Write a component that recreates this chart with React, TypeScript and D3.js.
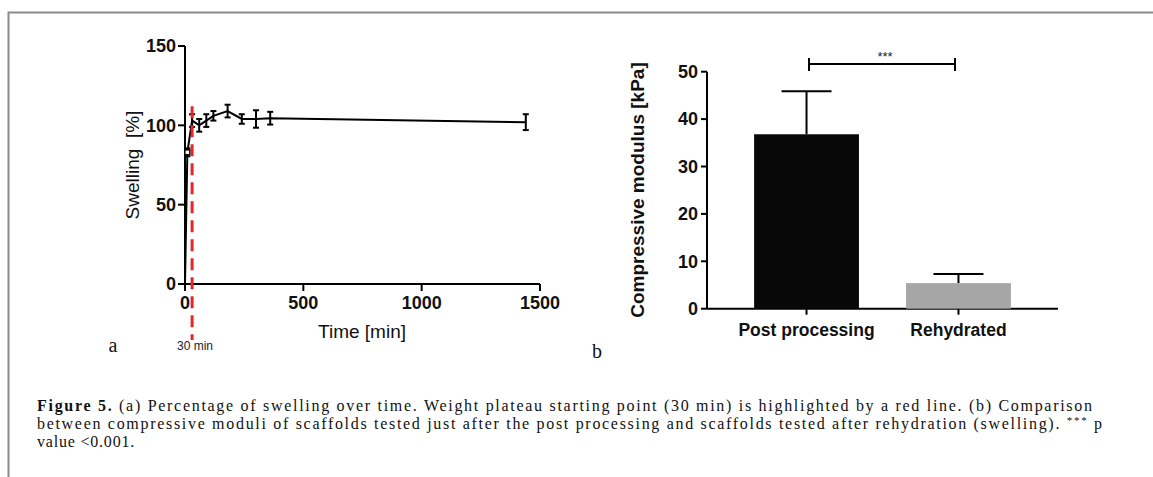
import * as d3 from 'd3'

// panel a: swelling over time
const times = [0, 10, 30, 60, 90, 120, 180, 240, 300, 360, 1440]
const swelling = [0, 83, 103, 100, 103, 106, 109, 104, 104, 104.5, 102]
const swellErr = [0, 2.5, 4, 4, 4, 3, 4, 3, 5.5, 4, 5]
const xTicksA = [0, 500, 1000, 1500]
const yTicksA = [0, 50, 100, 150]
const plateau = 30

// panel b: compressive modulus
const groups = ['Post processing', 'Rehydrated']
const modulus = [36.8, 5.4]
const modulusErr = [9.1, 1.9]
const yTicksB = [0, 10, 20, 30, 40, 50]
const barColors = ['#080808', '#a6a6a6']

const sans = 'Liberation Sans, Arial, sans-serif'
const serif = 'Liberation Serif, Times New Roman, serif'

export default function App() {
  const W = 1153
  const H = 477

  const xA = d3.scaleLinear().domain([0, 1500]).range([185, 540])
  const yA = d3.scaleLinear().domain([0, 150]).range([284, 46])
  const line = d3
    .line<number>()
    .x((d, i) => xA(times[i]))
    .y(d => yA(d))

  const xB = d3.scaleBand().domain(groups).range([707, 1058]).paddingInner(0.31).paddingOuter(0.31)
  const yB = d3.scaleLinear().domain([0, 50]).range([308.7, 71.7])

  const cap = 3
  const tk = 7

  return (
    <div style={{ position: 'absolute', left: 0, top: 0 }}>
      <svg width={W} height={H} style={{ display: 'block', background: '#fff' }}>
        {/* frame */}
        <path d={`M8.5,${H} V12.5 H${W}`} fill="none" stroke="#8a8a8a" strokeWidth={2} />

        {/* ---- panel a ---- */}
        <g fontFamily={sans} fontWeight="bold" fontSize={18} fill="#111">
          {/* axes */}
          <line x1={xA(0)} x2={xA(0)} y1={yA(150)} y2={yA(0)} stroke="#000" strokeWidth={2} />
          <line x1={xA(0) - tk} x2={xA(1500)} y1={yA(0)} y2={yA(0)} stroke="#000" strokeWidth={2} />
          {yTicksA.map(t => (
            <g key={t}>
              <line x1={xA(0) - tk} x2={xA(0)} y1={yA(t)} y2={yA(t)} stroke="#000" strokeWidth={2} />
              <text x={xA(0) - 9} y={yA(t)} dy="0.35em" textAnchor="end">{t}</text>
            </g>
          ))}
          {xTicksA.map(t => (
            <g key={t}>
              <line x1={xA(t)} x2={xA(t)} y1={yA(0)} y2={yA(0) + tk} stroke="#000" strokeWidth={2} />
              <text x={xA(t)} y={yA(0) + 25} textAnchor="middle">{t}</text>
            </g>
          ))}
          <text x={362} y={338} textAnchor="middle" fontWeight="normal" fontSize={19}>Time [min]</text>
          <text
            transform={`translate(139,165) rotate(-90)`}
            textAnchor="middle"
            fontWeight="normal"
            fontSize={19}
            style={{ whiteSpace: 'pre' }}
          >
            {'Swelling  [%]'}
          </text>
        </g>

        {/* data line and error bars */}
        <path d={line(swelling) || ''} fill="none" stroke="#000" strokeWidth={2} />
        {times.map((t, i) =>
          swellErr[i] > 0 ? (
            <g key={t} stroke="#000" strokeWidth={2}>
              <line x1={xA(t)} x2={xA(t)} y1={yA(swelling[i] + swellErr[i])} y2={yA(swelling[i] - swellErr[i])} />
              <line x1={xA(t) - cap} x2={xA(t) + cap} y1={yA(swelling[i] + swellErr[i])} y2={yA(swelling[i] + swellErr[i])} />
              <line x1={xA(t) - cap} x2={xA(t) + cap} y1={yA(swelling[i] - swellErr[i])} y2={yA(swelling[i] - swellErr[i])} />
            </g>
          ) : null
        )}
        <rect x={xA(10) - 2.5} y={yA(83) - 2.5} width={5} height={5} fill="#fff" stroke="#000" strokeWidth={1.5} />

        {/* plateau marker */}
        <line
          x1={xA(plateau)}
          x2={xA(plateau)}
          y1={yA(112)}
          y2={340}
          stroke="#e8262a"
          strokeWidth={3}
          strokeDasharray="12,7"
        />
        <text x={195} y={350} textAnchor="middle" fontFamily={sans} fontSize={12} fill="#222">30 min</text>
        <text x={113} y={352} textAnchor="middle" fontFamily={serif} fontSize={20} fill="#111">a</text>

        {/* ---- panel b ---- */}
        <g fontFamily={sans} fontWeight="bold" fontSize={18} fill="#111">
          <line x1={707} x2={707} y1={yB(50)} y2={yB(0)} stroke="#000" strokeWidth={2} />
          <line x1={707} x2={1058} y1={yB(0)} y2={yB(0)} stroke="#000" strokeWidth={2} />
          {yTicksB.map(t => (
            <g key={t}>
              <line x1={707 - 6} x2={707} y1={yB(t)} y2={yB(t)} stroke="#000" strokeWidth={2} />
              <text x={698} y={yB(t)} dy="0.35em" textAnchor="end">{t}</text>
            </g>
          ))}
          {groups.map((g, i) => {
            const x0 = xB(g) || 0
            const cx = x0 + xB.bandwidth() / 2
            return (
              <g key={g}>
                <line x1={cx} x2={cx} y1={yB(0)} y2={yB(0) + 6} stroke="#000" strokeWidth={2} />
                <line x1={cx} x2={cx} y1={yB(modulus[i])} y2={yB(modulus[i] + modulusErr[i])} stroke="#000" strokeWidth={2} />
                <line x1={cx - 25} x2={cx + 25} y1={yB(modulus[i] + modulusErr[i])} y2={yB(modulus[i] + modulusErr[i])} stroke="#000" strokeWidth={2} />
                <rect x={x0} y={yB(modulus[i])} width={xB.bandwidth()} height={yB(0) - yB(modulus[i])} fill={barColors[i]} />
                <text x={cx} y={336} textAnchor="middle" fontSize={17.5}>{g}</text>
              </g>
            )
          })}
          <text transform={`translate(644,190) rotate(-90)`} textAnchor="middle" fontSize={19}>
            Compressive modulus [kPa]
          </text>
        </g>

        {/* significance bracket */}
        <g stroke="#000" strokeWidth={2}>
          <line x1={809} x2={955} y1={64} y2={64} />
          <line x1={809} x2={809} y1={58} y2={71} />
          <line x1={955} x2={955} y1={58} y2={71} />
        </g>
        <text x={885} y={61} textAnchor="middle" fontFamily={sans} fontSize={13} fill="#222">***</text>
        <text x={597} y={358} textAnchor="middle" fontFamily={serif} fontSize={20} fill="#111">b</text>

        {/* caption */}
        <g fontFamily={serif} fontSize={16} fill="#111">
          <text x={37} y={411} textLength={1055} lengthAdjust="spacing">
            <tspan fontWeight="bold">Figure 5.</tspan> (a) Percentage of swelling over time. Weight plateau starting point (30 min) is highlighted by a red line. (b) Comparison
          </text>
          <text x={37} y={429} textLength={1065} lengthAdjust="spacing">
            between compressive moduli of scaffolds tested just after the post processing and scaffolds tested after rehydration (swelling).{' '}
            <tspan fontSize={11} dy={-5}>***</tspan>
            <tspan dy={5}> p</tspan>
          </text>
          <text x={37} y={447} letterSpacing={0.8}>value &lt;0.001.</text>
        </g>
      </svg>
    </div>
  )
}
